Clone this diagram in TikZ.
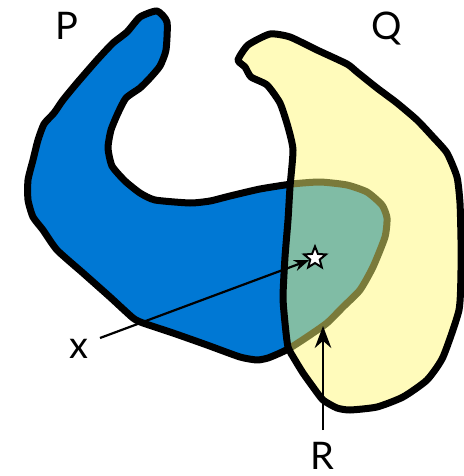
\documentclass[tikz,border=0pt]{standalone}
\usepackage{fontspec}
\setmainfont{Lato}
\usetikzlibrary{shapes.geometric,arrows.meta}
\definecolor{pblue}{RGB}{0,120,212}
\definecolor{qyellow}{RGB}{255,251,187}
\definecolor{rgreen}{RGB}{128,188,165}
\definecolor{rolive}{RGB}{122,122,58}
\tikzset{
  outline/.style={line width=7pt, line join=round},
  lbl/.style={font=\fontsize{38}{40}\selectfont, inner sep=0pt, anchor=base},
  ptr/.style={line width=2.2pt, -{Stealth[length=#1]}},
}
\begin{document}
\begin{tikzpicture}[x=1pt,y=-1pt]
\useasboundingbox (0,0) rectangle (463,476);
\def\Ppath{plot[smooth cycle, tension=0.35] coordinates {
(140,17) (157,11) (167,22) (166,50) (160,66) (150,78) (140,88) (126,98) (118,113) (111,130) (108,148) (112,166) (125,181) (140,193) (155,200) (190,203) (210,201) (230,196) (260,189) (292,184) (320,182) (347,185) (367,192) (382,205) (387,218) (385,237) (373,267) (360,290) (343,307) (327,323) (307,337) (290,348) (280,353) (268,358) (257,360) (240,357) (207,345) (173,333) (143,323) (133,318) (110,297) (83,273) (57,250) (43,230) (33,217) (28,200) (28,180) (33,160) (38,140) (44,124) (54,113) (63,100) (77,83) (97,60) (113,43) (127,32)}}
\def\Qpath{plot[smooth cycle, tension=0.35] coordinates {
(238,60) (248,45) (270,34) (290,37) (317,50) (347,64) (357,72) (377,88) (397,103) (417,120) (433,137) (447,153) (457,177) (460,203) (461,240) (461,270) (459,310) (443,357) (427,380) (403,397) (377,407) (350,410) (337,408) (323,400) (313,387) (303,373) (295,360) (288,347) (285,323) (283,297) (285,257) (288,220) (290,187) (293,150) (288,127) (280,103) (267,85) (251,77) (245,67)}}
% P
\draw[outline, fill=pblue] \Ppath;
% Q
\fill[qyellow] \Qpath;
% R = P inside Q
\begin{scope}
  \clip \Qpath;
  \fill[rgreen] \Ppath;
  \draw[outline, rolive] \Ppath;
\end{scope}
\draw[outline] \Qpath;
% star
\node[star, star points=5, star point ratio=2.3, minimum size=23pt, inner sep=0pt,
      fill=white, draw=black, line width=2pt] (star) at (315,258) {};
% labels
\node[lbl] (P) at (67,40) {P};
\node[lbl] (Q) at (387,40) {Q};
\node[lbl] (R) at (322,469) {R};
\node[lbl] (x) at (79,358) {x};
\coordinate (xs) at (100,338);
\coordinate (rs) at (323,430);
\coordinate (re) at (323,326);
\draw[ptr=15pt] (xs) -- (star);
\draw[ptr=22pt] (rs) -- (re);
\end{tikzpicture}
\end{document}
